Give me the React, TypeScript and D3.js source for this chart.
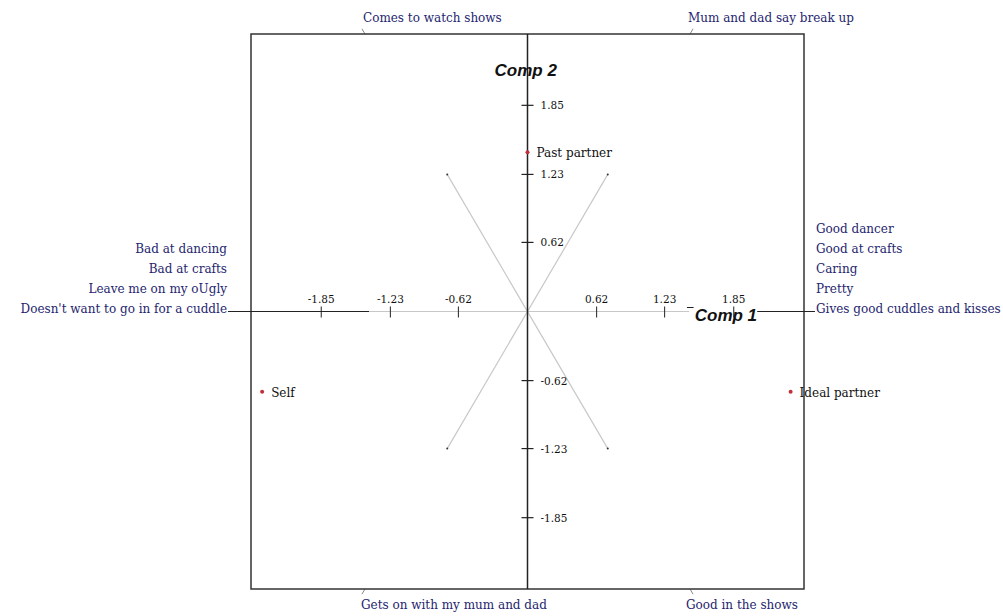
import React from "react";
import * as d3 from "d3";

const xTicks = [-1.85, -1.23, -0.62, 0.62, 1.23, 1.85];
const yTicks = [1.85, 1.23, 0.62, -0.62, -1.23, -1.85];

const elementNames = ["Past partner", "Self", "Ideal partner"];
const elementX = [0, -2.38, 2.36];
const elementY = [1.43, -0.72, -0.72];

const leftPoles = ["Bad at dancing", "Bad at crafts", "Leave me on my oUgly", "Doesn't want to go in for a cuddle"];
const rightPoles = ["Good dancer", "Good at crafts", "Caring", "Pretty", "Gives good cuddles and kisses"];

const constructTop = ["Comes to watch shows", "Mum and dad say break up"];
const constructBottom = ["Good in the shows", "Gets on with my mum and dad"];
const constructDX = [-0.72, 0.72];
const constructDY = [1.23, 1.23];

const W = 1003;
const H = 616;

export default function App() {
  const x = d3.scaleLinear().domain([-2.48, 2.48]).range([251, 804]);
  const y = d3.scaleLinear().domain([-2.49, 2.49]).range([589, 34]);
  const [bx0, bx1] = x.range();
  const by1 = y(-2.49);
  const by0 = y(2.49);
  const cx = x(0);
  const cy = y(0);
  const navy = "#25256e";
  const serif = "'DejaVu Serif', serif";
  const grey = "#c8c8c8";
  const fs = 12;

  return (
    <svg width={W} height={H} style={{ position: "absolute", left: 0, top: 0, background: "#fff" }}>
      <rect x={0} y={0} width={W} height={H} fill="#fff" />
      {/* construct lines */}
      {constructDX.map((dx, i) => {
        const dy = constructDY[i];
        const t = 2.49 / dy;
        const ex = dx * t;
        const topX = x(ex);
        const botX = x(-ex);
        const ext = 6;
        const len = Math.hypot(dx, dy);
        const ux = (dx / len) * ext;
        const uy = (dy / len) * ext;
        return (
          <g key={i}>
            <line x1={x(-dx)} y1={y(-dy)} x2={x(dx)} y2={y(dy)} stroke={grey} strokeWidth={1.2} />
            <circle cx={x(dx)} cy={y(dy)} r={1} fill="#333" />
            <circle cx={x(-dx)} cy={y(-dy)} r={1} fill="#333" />
            <line x1={topX} y1={by0} x2={topX + ux} y2={by0 - uy} stroke="#888" strokeWidth={1} />
            <line x1={botX} y1={by1} x2={botX - ux} y2={by1 + uy} stroke="#888" strokeWidth={1} />
            <text x={topX - 2} y={by0 - 12} fontFamily={serif} fontSize={fs} fill={navy}>{constructTop[i]}</text>
            <text x={botX - 4} y={by1 + 20} fontFamily={serif} fontSize={fs} fill={navy}>{constructBottom[i]}</text>
          </g>
        );
      })}
      {/* box */}
      <rect x={bx0} y={by0} width={bx1 - bx0} height={by1 - by0} fill="none" stroke="#333" strokeWidth={1.5} />
      {/* horizontal axis */}
      <line x1={228} y1={cy} x2={x(-1.42)} y2={cy} stroke="#222" strokeWidth={1.2} />
      <line x1={x(-1.42)} y1={cy} x2={x(1.45)} y2={cy} stroke={grey} strokeWidth={1.2} />
      <line x1={x(2.06)} y1={cy} x2={815} y2={cy} stroke="#222" strokeWidth={1.2} />
      <line x1={x(1.43)} y1={cy - 4} x2={x(1.49)} y2={cy - 4} stroke="#222" strokeWidth={1} />
      <text x={x(1.5)} y={cy + 9} fontFamily="'Liberation Sans', Arial, sans-serif" fontWeight="bold" fontStyle="italic" fontSize={17} fill="#111">Comp 1</text>
      {/* vertical axis */}
      <line x1={cx} y1={by0} x2={cx} y2={by1} stroke="#222" strokeWidth={1.5} />
      <text x={cx - 33} y={by0 + 42} fontFamily="'Liberation Sans', Arial, sans-serif" fontWeight="bold" fontStyle="italic" fontSize={17} fill="#111">Comp 2</text>
      {/* x ticks */}
      {xTicks.map((t) => (
        <g key={"xt" + t}>
          <line x1={x(t)} y1={cy - 5} x2={x(t)} y2={cy + 6} stroke="#222" strokeWidth={1} />
          <text x={x(t)} y={cy - 9} textAnchor="middle" fontFamily={serif} fontSize={10.5} fill="#111">{t.toFixed(2)}</text>
        </g>
      ))}
      {/* y ticks */}
      {yTicks.map((t) => (
        <g key={"yt" + t}>
          <line x1={cx - 6} y1={y(t)} x2={cx + 6} y2={y(t)} stroke="#222" strokeWidth={1.2} />
          <text x={cx + 13} y={y(t) + 4} fontFamily={serif} fontSize={10.5} fill="#111">{t.toFixed(2)}</text>
        </g>
      ))}
      {/* pole labels */}
      {leftPoles.map((s, i) => (
        <text key={s} x={227} y={cy - 59 + i * 20} textAnchor="end" fontFamily={serif} fontSize={fs} fill={navy}>{s}</text>
      ))}
      {rightPoles.map((s, i) => (
        <text key={s} x={816} y={cy - 79 + i * 20} fontFamily={serif} fontSize={fs} fill={navy}>{s}</text>
      ))}
      {/* elements */}
      {elementNames.map((n, i) => (
        <g key={n}>
          <circle cx={x(elementX[i])} cy={y(elementY[i])} r={2} fill="#c0303a" />
          <text x={x(elementX[i]) + 9} y={y(elementY[i]) + 5} fontFamily={serif} fontSize={fs} fill="#111">{n}</text>
        </g>
      ))}
    </svg>
  );
}
